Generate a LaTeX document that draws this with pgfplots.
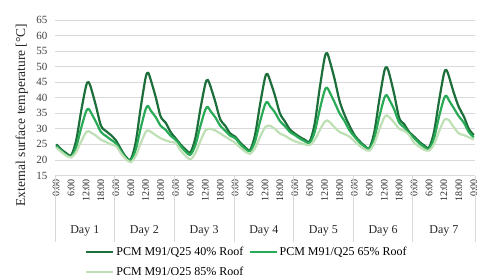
\documentclass[border=0pt]{standalone}
\usepackage{pgfplots}
\pgfplotsset{compat=1.18}
\usepackage{fontspec}
\setmainfont{Liberation Serif}
\definecolor{cA}{RGB}{28,110,58}
\definecolor{cB}{RGB}{40,170,86}
\definecolor{cC}{RGB}{190,224,180}
\definecolor{gridc}{RGB}{217,217,217}
\begin{document}
\begin{tikzpicture}
\useasboundingbox (-55pt,-98.5pt) rectangle (426pt,175.5pt);
\begin{axis}[
  at={(0pt,0pt)}, anchor=south west,
  scale only axis, width=420pt, height=155.5pt,
  xmin=-0.5, xmax=168.5, ymin=15, ymax=65,
  ytick={15,20,...,65},
  xtick={0,6,...,168},
  xticklabels={0:00,6:00,12:00,18:00,0:00,6:00,12:00,18:00,0:00,6:00,12:00,18:00,0:00,6:00,12:00,18:00,0:00,6:00,12:00,18:00,0:00,6:00,12:00,18:00,0:00,6:00,12:00,18:00,0:00},
  axis line style={draw=none},
  major tick length=0pt,
  ymajorgrids, grid style={gridc, line width=0.8pt},
  /pgf/number format/assume math mode=true,
  yticklabel style={font=\fontsize{11}{11}\selectfont, xshift=-4pt, text=black!75},
  xticklabel style={rotate=90, anchor=east, font=\fontsize{10}{10}\selectfont, text=black!85},
  ylabel={External surface temperature [°C]},
  ylabel style={at={(axis description cs:-0.079,0.389)}, anchor=center, font=\fontsize{13.5}{13.5}\selectfont, text=black!85},
  legend style={at={(axis description cs:0.0714,-0.447)}, anchor=north west, draw=none, fill=none,
     font=\fontsize{12}{12}\selectfont, inner sep=0pt, row sep=6pt,
     /tikz/every even column/.append style={column sep=3pt}},
  legend columns=2,
  legend cell align=left,
  legend image code/.code={\draw[#1] (0pt,0pt) -- (27pt,0pt);},
  clip=false,
]
\addplot[cA, line width=2.2pt, smooth] coordinates {
(0,25)(2,23.4)(4,22.2)(6,21.5)(8,26.2)(10,35.6)(12,43.8)(13,45)(14,43.1)(16,37.3)(18,31)(20,29.3)(22,28)
(24,26.3)(26,23.5)(28,21)(30,20.2)(32,25.8)(34,36.9)(36,46.6)(37,48)(38,45.8)(40,40.3)(42,34)(44,32)(46,29)
(48,27)(50,25)(52,23.4)(54,22.5)(56,27.1)(58,36.4)(60,44.5)(61,45.7)(62,43.8)(64,38.7)(66,33)(68,31)(70,28.5)
(72,27.5)(74,25.6)(76,24.1)(78,23.2)(80,28.1)(82,37.8)(84,46.4)(85,47.6)(86,45.6)(88,40.7)(90,35)(92,32.4)(94,29.8)
(96,28.5)(98,27.4)(100,26.5)(102,26)(104,31.7)(106,43)(108,52.9)(109,54.3)(110,52)(112,46)(114,39)(116,34.5)(118,31)
(120,28)(122,26.1)(124,24.6)(126,23.8)(128,29)(130,39.4)(132,48.5)(133,49.8)(134,47.7)(136,41.1)(138,33.5)(140,31.5)(142,29)
(144,27.5)(146,25.9)(148,24.7)(150,24)(152,29)(154,38.9)(156,47.7)(157,48.9)(158,46.9)(160,41.5)(162,37)(164,34)(166,30)(168,28)
};
\addlegendentry{PCM M91/Q25 40\% Roof}
\addplot[cB, line width=2.2pt, smooth] coordinates {
(0,24.5)(2,23)(4,21.7)(6,21)(8,24.1)(10,30.2)(12,35.6)(13,36.4)(14,35.2)(16,32.2)(18,29)(20,27.7)(22,26.5)
(24,25.3)(26,22.9)(28,20.6)(30,19.8)(32,23.3)(34,30.3)(36,36.4)(37,37.3)(38,35.9)(40,33.8)(42,31)(44,29.7)(46,27.8)
(48,26.5)(50,24.5)(52,22.7)(54,21.7)(56,24.8)(58,30.9)(60,36.2)(61,37)(62,35.8)(64,33.7)(66,31)(68,29.4)(70,27.8)
(72,27)(74,25.1)(76,23.6)(78,22.8)(80,26)(82,32.3)(84,37.8)(85,38.6)(86,37.3)(88,35.3)(90,32.5)(92,30.9)(94,29)
(96,28)(98,26.9)(100,26)(102,25.5)(104,29)(106,36.1)(108,42.3)(109,43.2)(110,41.8)(112,38.5)(114,35)(116,32.5)(118,29.5)
(120,27.5)(122,25.7)(124,24.3)(126,23.5)(128,27)(130,33.9)(132,39.9)(133,40.8)(134,39.4)(136,36.2)(138,32)(140,30.5)(142,28.5)
(144,27)(146,25.4)(148,24.2)(150,23.5)(152,26.9)(154,33.8)(156,39.7)(157,40.6)(158,39.2)(160,36.6)(162,34)(164,32)(166,29)(168,27.3)
};
\addlegendentry{PCM M91/Q25 65\% Roof}
\addplot[cC, line width=2.2pt, smooth] coordinates {
(0,24)(2,22.6)(4,21.4)(6,20.8)(8,22.5)(10,25.9)(12,28.9)(13,29.3)(14,28.8)(16,27.8)(18,26.5)(20,25.8)(22,25)
(24,24.5)(26,22.2)(28,20.3)(30,19.3)(32,21.3)(34,25.4)(36,29)(37,29.5)(38,29.1)(40,28)(42,27)(44,26.3)(46,25.8)
(48,25.5)(50,23.1)(52,21.3)(54,20.2)(56,22.2)(58,26.1)(60,29.5)(61,30)(62,30)(64,29.5)(66,28.5)(68,27.5)(70,26.5)
(72,25.5)(74,24)(76,22.7)(78,22)(80,23.8)(82,27.4)(84,30.5)(85,31)(86,31)(88,30)(90,28.5)(92,27.8)(94,26.8)
(96,26)(98,25.5)(100,25)(102,24.8)(104,26.4)(106,29.5)(108,32.3)(109,32.7)(110,32.2)(112,30.5)(114,29)(116,28.3)(118,27.5)
(120,26)(122,24.6)(124,23.5)(126,23)(128,25.3)(130,29.8)(132,33.7)(133,34.3)(134,33.8)(136,32)(138,30)(140,29.4)(142,28)
(144,25.5)(146,24.3)(148,23.3)(150,23)(152,25)(154,29.1)(156,32.7)(157,33.2)(158,32.8)(160,30.5)(162,28.5)(164,28)(166,27.3)(168,26.5)
};
\addlegendentry{PCM M91/Q25 85\% Roof}
\pgfplotsinvokeforeach{-0.5,23.5,47.5,71.5,95.5,119.5,143.5,168.5}{
  \draw[gridc, line width=0.8pt] (axis cs:#1,15) -- ++(0pt,-66.5pt);
}
\node[font=\fontsize{12}{12}\selectfont, text=black!85] at ([yshift=-55.5pt]axis cs:11.5,15) {Day 1};
\node[font=\fontsize{12}{12}\selectfont, text=black!85] at ([yshift=-55.5pt]axis cs:35.5,15) {Day 2};
\node[font=\fontsize{12}{12}\selectfont, text=black!85] at ([yshift=-55.5pt]axis cs:59.5,15) {Day 3};
\node[font=\fontsize{12}{12}\selectfont, text=black!85] at ([yshift=-55.5pt]axis cs:83.5,15) {Day 4};
\node[font=\fontsize{12}{12}\selectfont, text=black!85] at ([yshift=-55.5pt]axis cs:107.5,15) {Day 5};
\node[font=\fontsize{12}{12}\selectfont, text=black!85] at ([yshift=-55.5pt]axis cs:131.5,15) {Day 6};
\node[font=\fontsize{12}{12}\selectfont, text=black!85] at ([yshift=-55.5pt]axis cs:156,15) {Day 7};
\end{axis}
\end{tikzpicture}
\end{document}
